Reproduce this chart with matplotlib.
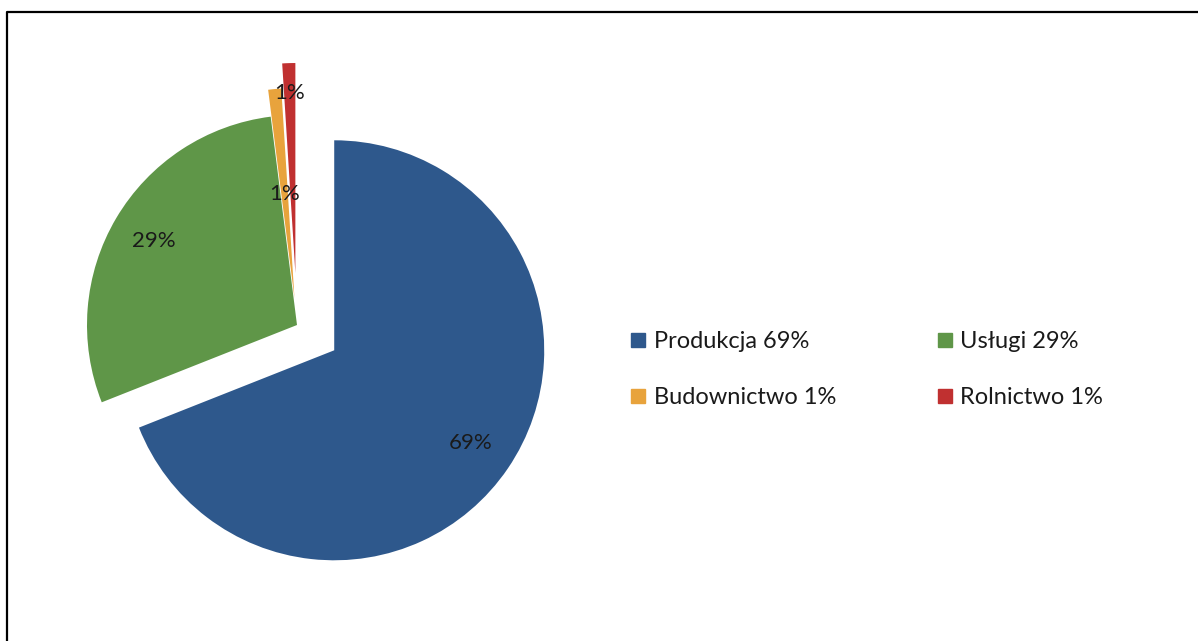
import numpy as np
import matplotlib.pyplot as plt
from matplotlib.lines import Line2D

plt.rcParams['font.family'] = ['Lato', 'DejaVu Sans']

sectors = ['Produkcja', 'Usługi', 'Budownictwo', 'Rolnictwo']
shares = [69, 29, 1, 1]
colors = ['#2E588C', '#5F9648', '#E8A33C', '#C03030']

# pie laid out in pixel units (y pointing up)
W, H = 1198, 641
center = (297, H - 325)
radius = 210
explode = [45, 0, 27, 52]
label_dist = [0.785, 0.79, 0.50, 0.86]

fig = plt.figure(figsize=(W / 100, H / 100), dpi=100)
ax = fig.add_axes([0, 0, 1, 1])
wedges, _ = ax.pie(shares, colors=colors, startangle=90, counterclock=False,
                   explode=explode, radius=radius, center=center,
                   wedgeprops=dict(linewidth=0))
ax.set_xlim(0, W)
ax.set_ylim(0, H)
ax.set_aspect('equal')
ax.axis('off')

for w, v, d in zip(wedges, shares, label_dist):
    th = np.deg2rad((w.theta1 + w.theta2) / 2)
    x = w.center[0] + d * radius * np.cos(th)
    y = w.center[1] + d * radius * np.sin(th)
    ax.text(x, y, f'{v}%', ha='center', va='center', fontsize=16, color='#1a1a1a')

handles = [Line2D([], [], marker='s', linestyle='', markersize=10,
                  markerfacecolor=c, markeredgecolor=c) for c in colors]
labels = [f'{s} {v}%' for s, v in zip(sectors, shares)]
order = [0, 2, 1, 3]
fig.legend([handles[i] for i in order], [labels[i] for i in order],
           ncol=2, loc='upper left', bbox_to_anchor=(631 / W, 1 - 331 / H),
           frameon=False, fontsize=17, handlelength=0.62, handletextpad=0.34,
           columnspacing=4.3, labelspacing=1.48, borderpad=0, borderaxespad=0,
           labelcolor='#1a1a1a')

# frame line along top and left edges
fig.add_artist(Line2D([6.5 / W, 6.5 / W, 1], [0, 1 - 11.5 / H, 1 - 11.5 / H],
                      transform=fig.transFigure, color='black', linewidth=1.6))

fig.savefig('out.png', dpi=100)
